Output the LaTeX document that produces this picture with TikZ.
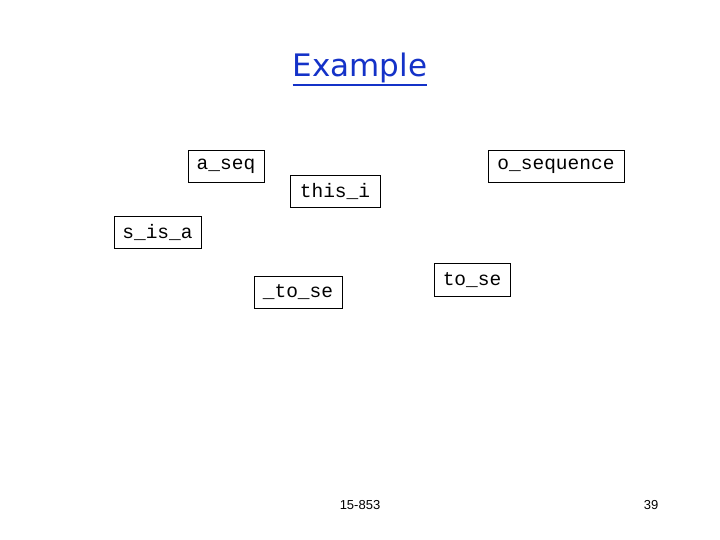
\documentclass[tikz,border=0pt]{standalone}
\usepackage{fontspec}
\setmainfont{Liberation Sans}
\newfontfamily\monofont{Liberation Mono}
\newfontfamily\titlefont{DejaVu Sans}
\definecolor{titleblue}{RGB}{20,50,200}
\begin{document}
\begin{tikzpicture}[x=1pt,y=1pt,
  wordbox/.style={draw=black,line width=0.8pt,inner sep=0pt,font=\monofont\fontsize{19.5}{22}\selectfont},
  foot/.style={font=\fontsize{13}{15}\selectfont,inner sep=0pt}]
\useasboundingbox (0,0) rectangle (720,540);
\fill[white] (0,0) rectangle (720,540);
\node[text=titleblue,font=\titlefont\fontsize{31}{34}\selectfont,inner sep=0pt,anchor=base] (title) at (360,463) {Example};
\draw[titleblue,line width=2.2pt] ([yshift=-8pt]title.base west) -- ([yshift=-8pt]title.base east);
\node[wordbox,minimum width=76pt,minimum height=32pt] (aseq) at (226,374) {a\_seq};
\node[wordbox,minimum width=90pt,minimum height=32pt] (thisi) at (335,349) {this\_i};
\node[wordbox,minimum width=136pt,minimum height=32pt] (oseq) at (556,374) {o\_sequence};
\node[wordbox,minimum width=87pt,minimum height=32pt] (sisa) at (157.5,308) {s\_is\_a};
\node[wordbox,minimum width=88pt,minimum height=32pt] (tose1) at (298,248) {\_to\_se};
\node[wordbox,minimum width=76pt,minimum height=33pt] (tose2) at (472,260) {to\_se};
\node[foot] (course) at (360,35) {15-853};
\node[foot] (page) at (651,35) {39};
\end{tikzpicture}
\end{document}
